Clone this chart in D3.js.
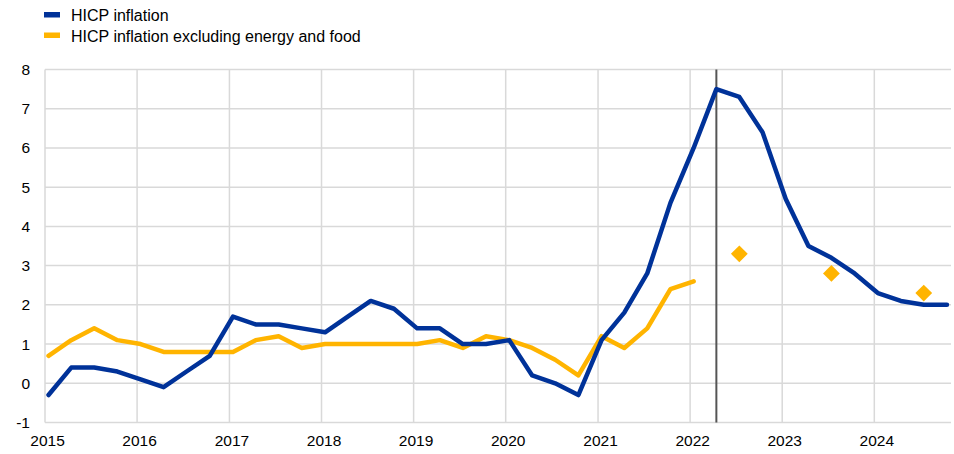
<!DOCTYPE html>
<html>
<head>
<meta charset="utf-8">
<script src="https://cdn.jsdelivr.net/npm/d3@7"></script>
<style>
  body { margin: 0; background: #fff; }
  text { font-family: Arial, "Liberation Sans", sans-serif; fill: #000; }
</style>
</head>
<body>
<svg id="chart" width="954" height="454"></svg>
<script>
// quarterly observations, 2015Q1 .. 2024Q4
var quarters = [];
for (var y = 2015; y <= 2024; y++) {
    for (var q = 0; q < 4; q++) quarters.push(new Date(y, q * 3, 15));
}

var hicp = [
    -0.3, 0.4, 0.4, 0.3,
    0.1, -0.1, 0.3, 0.7,
    1.7, 1.5, 1.5, 1.4,
    1.3, 1.7, 2.1, 1.9,
    1.4, 1.4, 1.0, 1.0,
    1.1, 0.2, 0.0, -0.3,
    1.1, 1.8, 2.8, 4.6,
    6.0, 7.5, 7.3, 6.4,
    4.7, 3.5, 3.2, 2.8,
    2.3, 2.1, 2.0, 2.0
];

var hicpCore = [
    0.7, 1.1, 1.4, 1.1,
    1.0, 0.8, 0.8, 0.8,
    0.8, 1.1, 1.2, 0.9,
    1.0, 1.0, 1.0, 1.0,
    1.0, 1.1, 0.9, 1.2,
    1.1, 0.9, 0.6, 0.2,
    1.2, 0.9, 1.4, 2.4,
    2.6
];

// annual projections for core inflation
var projYears = [2022, 2023, 2024];
var projCore = [3.3, 2.8, 2.3];

var cutoff = new Date(2022, 3, 15);
var yTicks = [-1, 0, 1, 2, 3, 4, 5, 6, 7, 8];
var yearTicks = d3.range(2015, 2025);

var legendItems = ["HICP inflation", "HICP inflation excluding energy and food"];
var colors = ["#003299", "#FFB400"];

var svg = d3.select("#chart");

var x = d3.scaleTime()
    .domain([new Date(2015, 0, 1), new Date(2024, 9, 31)])
    .range([45, 951]);

var y = d3.scaleLinear()
    .domain([-1, 8])
    .range([422.5, 69.5]);

// grid
svg.append("g")
    .selectAll("line")
    .data(yTicks)
    .enter()
    .append("line")
    .attr("x1", x.range()[0])
    .attr("x2", x.range()[1])
    .attr("y1", function(d){ return y(d) })
    .attr("y2", function(d){ return y(d) })
    .style("stroke", "#d9d9d9")
    .style("stroke-width", 1.5);

svg.append("g")
    .selectAll("line")
    .data(yearTicks)
    .enter()
    .append("line")
    .attr("x1", function(d){ return x(new Date(d, 0, 1)) })
    .attr("x2", function(d){ return x(new Date(d, 0, 1)) })
    .attr("y1", y(8))
    .attr("y2", y(-1))
    .style("stroke", "#d9d9d9")
    .style("stroke-width", 1.5);

// axes
var yAxis = d3.axisLeft(y)
    .tickValues(yTicks)
    .tickFormat(function(d){ return String(d) })   // plain hyphen for -1
    .tickSize(0)
    .tickPadding(15);
svg.append("g")
    .attr("transform", "translate(" + x.range()[0] + ",0)")
    .call(yAxis)
    .call(function(g){ g.select(".domain").remove() })
    .selectAll("text")
    .style("font-size", "15.5px");

var xAxis = d3.axisBottom(x)
    .tickValues(yearTicks.map(function(d){ return new Date(d, 0, 1) }))
    .tickFormat(d3.timeFormat("%Y"))
    .tickSize(0)
    .tickPadding(12);
svg.append("g")
    .attr("transform", "translate(0," + y(-1) + ")")
    .call(xAxis)
    .call(function(g){ g.select(".domain").remove() })
    .selectAll("text")
    .attr("dx", 2)
    .style("font-size", "15.5px");

// vertical cut-off line
svg.append("line")
    .attr("x1", x(cutoff))
    .attr("x2", x(cutoff))
    .attr("y1", y(8))
    .attr("y2", y(-1))
    .style("stroke", "#555")
    .style("stroke-width", 2);

var line = d3.line()
    .x(function(d){ return x(d[0]) })
    .y(function(d){ return y(d[1]) });

svg.append("path")
    .datum(d3.zip(quarters.slice(0, hicpCore.length), hicpCore))
    .attr("d", line)
    .style("fill", "none")
    .style("stroke", colors[1])
    .style("stroke-width", 4.5)
    .style("stroke-linejoin", "round")
    .style("stroke-linecap", "round");

svg.append("path")
    .datum(d3.zip(quarters, hicp))
    .attr("d", line)
    .style("fill", "none")
    .style("stroke", colors[0])
    .style("stroke-width", 4.5)
    .style("stroke-linejoin", "round")
    .style("stroke-linecap", "round");

// projection diamonds
svg.append("g")
    .selectAll("path")
    .data(d3.zip(projYears, projCore))
    .enter()
    .append("path")
    .attr("d", d3.symbol().type(d3.symbolDiamond2).size(180))
    .attr("transform", function(d){
        return "translate(" + x(new Date(d[0], 6, 15)) + "," + y(d[1]) + ")";
    })
    .style("fill", colors[1]);

// legend
var legend = svg.append("g")
    .selectAll("g")
    .data(legendItems)
    .enter()
    .append("g")
    .attr("transform", function(d, i){ return "translate(44," + (12 + i * 20.5) + ")" });

legend.append("rect")
    .attr("width", 16)
    .attr("height", 5.5)
    .style("fill", function(d, i){ return colors[i] });

legend.append("text")
    .text(function(d){ return d })
    .attr("x", 27)
    .attr("y", 9)
    .style("font-size", "16px");
</script>
</body>
</html>
